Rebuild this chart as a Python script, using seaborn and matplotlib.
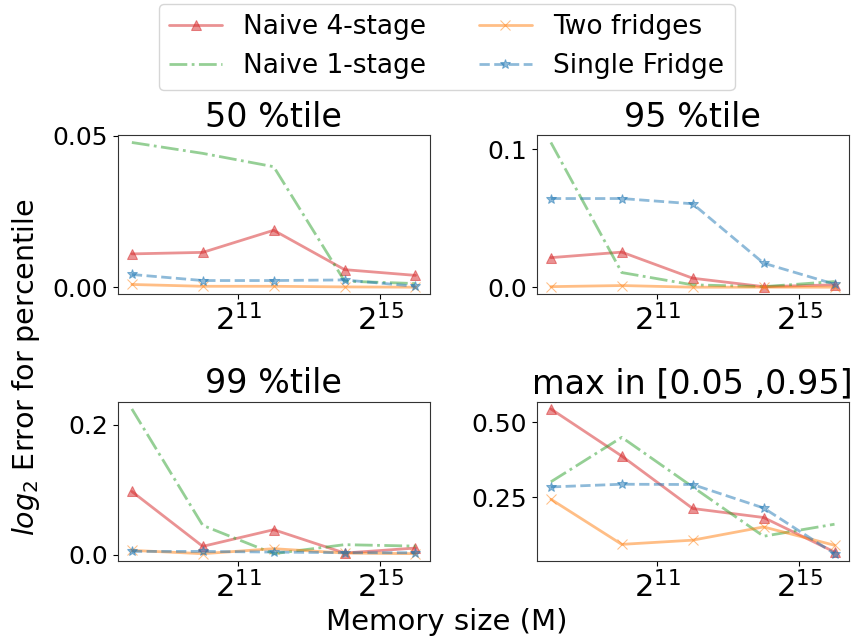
import numpy as np
import pandas as pd
import matplotlib
matplotlib.use("Agg")
import matplotlib.pyplot as plt
import seaborn as sns

# ------------------------------------------------------------
# Data
# ------------------------------------------------------------
memory = [2**8, 2**10, 2**12, 2**14, 2**16]

titles = ["50 %tile", "95 %tile", "99 %tile", "max in [0.05 ,0.95]"]

naive4 = [
    [0.0110, 0.0115, 0.0188, 0.0058, 0.0039],
    [0.0214, 0.0254, 0.0065, 0.0004, 0.0017],
    [0.0974, 0.0128, 0.0385, 0.0025, 0.0102],
    [0.5443, 0.3877, 0.2133, 0.1833, 0.0687],
]
naive1 = [
    [0.0478, 0.0442, 0.0398, 0.0020, 0.0012],
    [0.1048, 0.0106, 0.0017, 0.0004, 0.0041],
    [0.2246, 0.0451, 0.0015, 0.0154, 0.0132],
    [0.302, 0.450, 0.285, 0.121, 0.161],
]
two_fridges = [
    [0.0009, 0.0003, 0.0003, 0.0001, 0.0000],
    [0.0004, 0.0012, 0.0000, 0.0000, 0.0000],
    [0.0066, 0.0015, 0.0092, 0.0025, 0.0015],
    [0.244, 0.094, 0.108, 0.152, 0.091],
]
single_fridge = [
    [0.0042, 0.0022, 0.0022, 0.0024, 0.0003],
    [0.0642, 0.0642, 0.0604, 0.0174, 0.0022],
    [0.0050, 0.0050, 0.0040, 0.0030, 0.0030],
    [0.285, 0.294, 0.293, 0.215, 0.063],
]

yticks = [[0.0, 0.05], [0.0, 0.1], [0.0, 0.2], [0.25, 0.50]]

series = [
    ("Naive 4-stage", naive4, "tab:red", "^", "-"),
    ("Naive 1-stage", naive1, "tab:green", "", "-."),
    ("Two fridges", two_fridges, "tab:orange", "x", "-"),
    ("Single Fridge", single_fridge, "tab:blue", "*", "--"),
]

# ------------------------------------------------------------
# Plot
# ------------------------------------------------------------
sns.set_style("ticks")
plt.rcParams["font.family"] = ["DejaVu Sans"]
plt.rcParams.update({"text.color": "black", "axes.labelcolor": "black",
                     "xtick.color": "black", "ytick.color": "black",
                     "axes.edgecolor": "black"})

fig, axes = plt.subplots(2, 2, figsize=(8.59, 6.44), dpi=100)
fig.subplots_adjust(left=0.137, right=0.988, top=0.790, bottom=0.129,
                    wspace=0.343, hspace=0.674)

for i, ax in enumerate(axes.flat):
    for name, vals, color, marker, ls in series:
        sns.lineplot(x=memory, y=vals[i], ax=ax, color=color,
                     marker=marker if marker else None, linestyle=ls,
                     linewidth=2, markersize=7, alpha=0.5,
                     markeredgecolor=color, label=name if i == 0 else None)
    ax.set_xscale("log", base=2)
    ax.set_xticks([2**11, 2**15])
    ax.minorticks_off()
    ax.set_yticks(yticks[i])
    ax.tick_params(axis="x", labelsize=22)
    ax.tick_params(axis="y", labelsize=18)
    ax.set_title(titles[i], fontsize=24)
    for s in ax.spines.values():
        s.set_color("0.2")
    if ax.get_legend() is not None:
        ax.get_legend().remove()

handles, labels = axes[0, 0].get_legend_handles_labels()
fig.legend(handles, labels, loc="upper center", bbox_to_anchor=(0.52, 1.015),
           ncol=2, fontsize=19, frameon=True, columnspacing=2.0)

fig.text(0.03, 0.43, "$log_2$ Error for percentile", rotation=90,
         ha="center", va="center", fontsize=20.5)
fig.text(0.52, 0.034, "Memory size (M)", ha="center", va="center",
         fontsize=21)

fig.savefig("out.png", dpi=100)
